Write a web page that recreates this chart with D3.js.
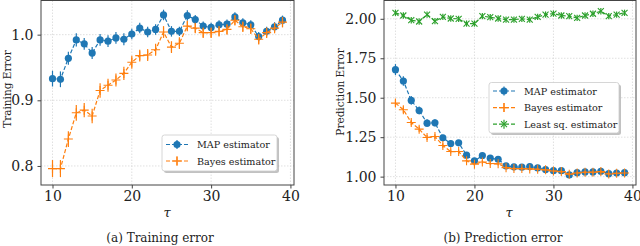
<!DOCTYPE html>
<html>
<head>
<meta charset="utf-8">
<script src="https://cdn.jsdelivr.net/npm/d3@7"></script>
<style>
  body { margin: 0; background: #fff; }
  svg { display: block; font-family: "DejaVu Serif", serif; }
  .grid line { stroke: #d8d8d8; stroke-width: 0.8; stroke-dasharray: 1.5,1.5; }
  .axis path, .axis line { stroke: #444; }
</style>
</head>
<body>
<svg id="chart" width="640" height="246"></svg>
<script>
// tau values, shared by every series
var TAU = [10, 11, 12, 13, 14, 15, 16, 17, 18, 19, 20, 21, 22, 23, 24,
           25, 26, 27, 28, 29, 30, 31, 32, 33, 34, 35, 36, 37, 38, 39];

// (a) training error
var TRAIN_MAP = [0.933, 0.932, 0.964, 0.992, 0.986, 0.972, 0.992, 0.990, 0.995, 0.993,
                 1.001, 1.010, 1.004, 1.008, 1.030, 1.005, 1.005, 1.029, 1.023, 1.013,
                 1.011, 1.015, 1.016, 1.027, 1.018, 1.015, 0.997, 1.005, 1.012, 1.022];
var TRAIN_MAP_ERR = [0.012, 0.012, 0.010, 0.010, 0.009, 0.009, 0.009, 0.009, 0.009, 0.009,
                     0.008, 0.008, 0.008, 0.008, 0.008, 0.008, 0.007, 0.008, 0.007, 0.007,
                     0.007, 0.007, 0.007, 0.007, 0.007, 0.007, 0.007, 0.007, 0.007, 0.007];
var TRAIN_BAYES = [0.796, 0.796, 0.841, 0.881, 0.885, 0.876, 0.915, 0.923, 0.931, 0.941,
                   0.958, 0.968, 0.969, 0.977, 1.004, 0.981, 0.987, 1.013, 1.010, 1.003,
                   1.003, 1.005, 1.008, 1.022, 1.012, 1.009, 0.993, 1.003, 1.010, 1.019];
var TRAIN_BAYES_ERR = [0.013, 0.013, 0.012, 0.012, 0.011, 0.011, 0.011, 0.010, 0.010, 0.010,
                       0.010, 0.009, 0.009, 0.009, 0.009, 0.009, 0.009, 0.008, 0.008, 0.008,
                       0.008, 0.008, 0.008, 0.008, 0.008, 0.008, 0.008, 0.008, 0.008, 0.008];

// (b) prediction error
var PRED_MAP = [1.678, 1.606, 1.483, 1.419, 1.339, 1.341, 1.246, 1.210, 1.214, 1.136,
                1.100, 1.134, 1.117, 1.110, 1.068, 1.062, 1.060, 1.064, 1.055, 1.045,
                1.038, 1.038, 1.011, 1.025, 1.030, 1.030, 1.034, 1.019, 1.023, 1.025];
var PRED_MAP_ERR = [0.035, 0.030, 0.028, 0.025, 0.024, 0.022, 0.020, 0.020, 0.018, 0.016,
                    0.015, 0.015, 0.014, 0.014, 0.012, 0.012, 0.012, 0.011, 0.011, 0.010,
                    0.010, 0.010, 0.010, 0.010, 0.010, 0.010, 0.010, 0.010, 0.010, 0.010];
var PRED_BAYES = [1.466, 1.424, 1.343, 1.301, 1.248, 1.254, 1.197, 1.159, 1.159, 1.100,
                  1.079, 1.093, 1.083, 1.081, 1.057, 1.051, 1.051, 1.049, 1.047, 1.043,
                  1.036, 1.032, 1.015, 1.023, 1.028, 1.028, 1.032, 1.017, 1.021, 1.023];
var PRED_BAYES_ERR = [0.022, 0.020, 0.018, 0.017, 0.016, 0.015, 0.014, 0.013, 0.013, 0.012,
                      0.012, 0.011, 0.011, 0.011, 0.010, 0.010, 0.010, 0.010, 0.010, 0.009,
                      0.009, 0.009, 0.009, 0.009, 0.009, 0.009, 0.009, 0.009, 0.009, 0.009];
var PRED_LSQ = [2.038, 2.021, 1.991, 1.983, 2.027, 1.985, 2.012, 2.002, 2.000, 1.970,
                1.970, 2.017, 2.010, 2.002, 1.995, 1.995, 2.000, 1.995, 2.012, 2.027,
                2.033, 2.021, 2.017, 2.006, 2.021, 2.032, 2.048, 2.017, 2.027, 2.038];
var PRED_LSQ_ERR = [0.020, 0.020, 0.020, 0.020, 0.020, 0.020, 0.020, 0.020, 0.020, 0.020,
                    0.020, 0.020, 0.020, 0.020, 0.020, 0.020, 0.020, 0.020, 0.020, 0.020,
                    0.020, 0.020, 0.020, 0.020, 0.020, 0.020, 0.020, 0.020, 0.020, 0.020];

var X_TICKS = [10, 20, 30, 40];
var TRAIN_Y_TICKS = [0.8, 0.9, 1.0];
var PRED_Y_TICKS = [1.00, 1.25, 1.50, 1.75, 2.00];

var BLUE = "#1f77b4", ORANGE = "#ff7f0e", GREEN = "#2ca02c";
var SERIF = "DejaVu Serif, serif";

var svg = d3.select("#chart");

function zip(vals, errs) {
    return TAU.map(function (t, i) { return {x: t, y: vals[i], e: errs[i]}; });
}

function drawMarker(g, kind, color) {
    if (kind === "circle") {
        g.append("circle").attr("r", 3.6).attr("fill", color);
    } else if (kind === "plus") {
        g.append("path").attr("d", "M-4.5,0H4.5M0,-4.5V4.5")
            .attr("stroke", color).attr("stroke-width", 1.1).attr("fill", "none");
    } else {
        g.append("path").attr("d", "M-3,-3L3,3M-3,3L3,-3")
            .attr("stroke", color).attr("stroke-width", 1.1).attr("fill", "none");
    }
}

function drawPanel(opt) {
    var x = d3.scaleLinear().domain([8.55, 40.45]).range([opt.left, opt.right]);
    var y = d3.scaleLinear().domain(opt.yDomain).range([opt.bottom, opt.top]);
    var g = svg.append("g");

    // grid
    var grid = g.append("g").attr("class", "grid");
    grid.selectAll("line.v").data(X_TICKS).enter().append("line")
        .attr("x1", function (d) { return x(d); }).attr("x2", function (d) { return x(d); })
        .attr("y1", opt.top).attr("y2", opt.bottom);
    grid.selectAll("line.h").data(opt.yTicks).enter().append("line")
        .attr("x1", opt.left).attr("x2", opt.right)
        .attr("y1", function (d) { return y(d); }).attr("y2", function (d) { return y(d); });

    // series
    opt.series.forEach(function (s) {
        var data = zip(s.values, s.errs);
        var sg = g.append("g");
        var line = d3.line().x(function (d) { return x(d.x); }).y(function (d) { return y(d.y); });
        sg.append("path").datum(data).attr("d", line)
            .attr("fill", "none").attr("stroke", s.color).attr("stroke-width", 1.2)
            .attr("stroke-dasharray", "4,2");
        sg.selectAll("line.err").data(data).enter().append("line")
            .attr("x1", function (d) { return x(d.x); }).attr("x2", function (d) { return x(d.x); })
            .attr("y1", function (d) { return y(d.y - d.e); })
            .attr("y2", function (d) { return y(d.y + d.e); })
            .attr("stroke", s.color).attr("stroke-width", 1.2);
        sg.selectAll("g.m").data(data).enter().append("g")
            .attr("transform", function (d) { return "translate(" + x(d.x) + "," + y(d.y) + ")"; })
            .each(function () { drawMarker(d3.select(this), s.marker, s.color); });
    });

    // axes
    var ax = g.append("g").attr("class", "axis")
        .attr("transform", "translate(0," + opt.bottom + ")")
        .call(d3.axisBottom(x).tickValues(X_TICKS).tickFormat(d3.format("d"))
            .tickSize(3.5).tickPadding(3).tickSizeOuter(0));
    var ay = g.append("g").attr("class", "axis")
        .attr("transform", "translate(" + opt.left + ",0)")
        .call(d3.axisLeft(y).tickValues(opt.yTicks).tickFormat(d3.format(opt.yFormat))
            .tickSize(3.5).tickPadding(4).tickSizeOuter(0));
    [ax, ay].forEach(function (a) {
        a.select(".domain").remove();
        a.attr("font-family", SERIF).attr("font-size", 14);
        a.selectAll("text").attr("fill", "#222");
    });

    // frame
    g.append("rect").attr("x", opt.left).attr("y", opt.top)
        .attr("width", opt.right - opt.left).attr("height", opt.bottom - opt.top)
        .attr("fill", "none").attr("stroke", "#444").attr("stroke-width", 1);

    // labels
    g.append("text").attr("transform", "translate(" + opt.yLabelX + "," + opt.yLabelY + ") rotate(-90)")
        .attr("text-anchor", "middle").attr("font-size", "10.5px").attr("fill", "#222")
        .text(opt.yLabel);
    g.append("text").attr("x", opt.tauX).attr("y", 217)
        .attr("text-anchor", "middle").attr("font-size", "13px").attr("font-style", "italic")
        .attr("fill", "#222").text("τ");
    g.append("text").attr("x", opt.captionX).attr("y", 242)
        .attr("text-anchor", "middle").attr("font-size", "12px").attr("fill", "#222")
        .text(opt.caption);

    // legend
    var L = opt.legend;
    var lg = g.append("g");
    lg.append("rect").attr("x", L.x + 2).attr("y", L.y + 2).attr("width", L.w).attr("height", L.h)
        .attr("rx", 2.5).attr("fill", "#999").attr("opacity", 0.6);
    lg.append("rect").attr("x", L.x).attr("y", L.y).attr("width", L.w).attr("height", L.h)
        .attr("rx", 2.5).attr("fill", "#fff").attr("stroke", "#ccc").attr("stroke-width", 0.8);
    opt.series.forEach(function (s, i) {
        var ry = L.y + L.row0 + i * L.dy;
        var hx = L.x + 4;
        lg.append("line").attr("x1", hx).attr("x2", hx + 22).attr("y1", ry).attr("y2", ry)
            .attr("stroke", s.color).attr("stroke-width", 1.2).attr("stroke-dasharray", "4,2");
        lg.append("line").attr("x1", hx + 11).attr("x2", hx + 11).attr("y1", ry - 4.5).attr("y2", ry + 4.5)
            .attr("stroke", s.color).attr("stroke-width", 1.2);
        drawMarker(lg.append("g").attr("transform", "translate(" + (hx + 11) + "," + ry + ")"), s.marker, s.color);
        lg.append("text").attr("x", hx + 31).attr("y", ry + 3.5)
            .attr("font-size", "9.6px").attr("fill", "#222").text(s.name);
    });
}

drawPanel({
    left: 41, right: 294, top: 0.5, bottom: 185,
    yDomain: [0.771, 1.052], yTicks: TRAIN_Y_TICKS, yFormat: ".1f",
    yLabel: "Training Error", yLabelX: 11, yLabelY: 89,
    tauX: 167, captionX: 160, caption: "(a) Training error",
    legend: {x: 162, y: 135, w: 115, h: 36, row0: 9.5, dy: 16.5},
    series: [
        {name: "MAP estimator", values: TRAIN_MAP, errs: TRAIN_MAP_ERR, color: BLUE, marker: "circle"},
        {name: "Bayes estimator", values: TRAIN_BAYES, errs: TRAIN_BAYES_ERR, color: ORANGE, marker: "plus"}
    ]
});

drawPanel({
    left: 384, right: 636, top: 0.5, bottom: 185,
    yDomain: [0.947, 2.116], yTicks: PRED_Y_TICKS, yFormat: ".2f",
    yLabel: "Prediction Error", yLabelX: 344, yLabelY: 92,
    tauX: 509, captionX: 503, caption: "(b) Prediction error",
    legend: {x: 489, y: 82.5, w: 130, h: 50.5, row0: 8.5, dy: 16.6},
    series: [
        {name: "MAP estimator", values: PRED_MAP, errs: PRED_MAP_ERR, color: BLUE, marker: "circle"},
        {name: "Bayes estimator", values: PRED_BAYES, errs: PRED_BAYES_ERR, color: ORANGE, marker: "plus"},
        {name: "Least sq. estimator", values: PRED_LSQ, errs: PRED_LSQ_ERR, color: GREEN, marker: "x"}
    ]
});
</script>
</body>
</html>
